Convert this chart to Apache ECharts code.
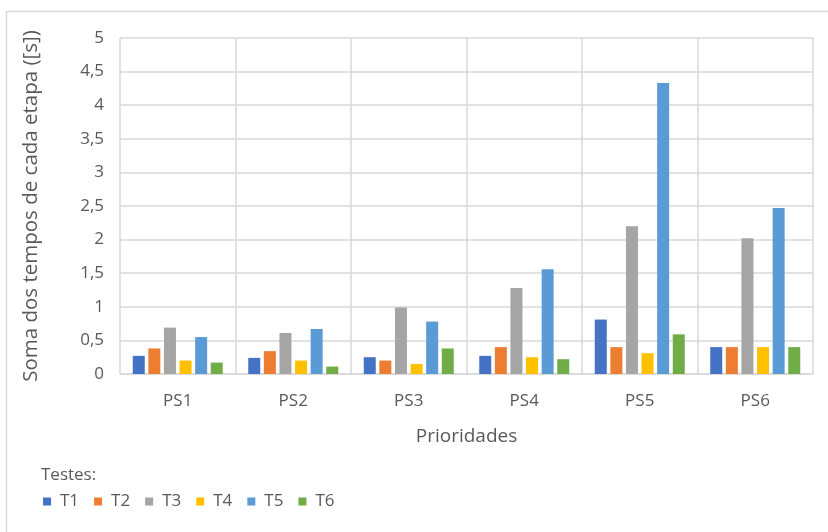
<!DOCTYPE html>
<html>
<head>
<meta charset="utf-8">
<script src="https://cdn.jsdelivr.net/npm/echarts@6/dist/echarts.min.js"></script>
<style>
  html, body { margin: 0; padding: 0; background: #fff; }
  #chart { width: 828px; height: 532px; }
</style>
</head>
<body>
<div id="chart"></div>
<script>
// Categories (priorities) and per-test sums of step times, in seconds
const categories = ['PS1', 'PS2', 'PS3', 'PS4', 'PS5', 'PS6'];
const seriesNames = ['T1', 'T2', 'T3', 'T4', 'T5', 'T6'];
const T1 = [0.27, 0.24, 0.25, 0.27, 0.81, 0.40];
const T2 = [0.38, 0.34, 0.20, 0.40, 0.40, 0.40];
const T3 = [0.69, 0.61, 0.99, 1.28, 2.20, 2.02];
const T4 = [0.20, 0.20, 0.15, 0.25, 0.31, 0.40];
const T5 = [0.55, 0.67, 0.78, 1.56, 4.33, 2.47];
const T6 = [0.17, 0.11, 0.38, 0.22, 0.59, 0.40];
const values = [T1, T2, T3, T4, T5, T6];
const colors = ['#4472C4', '#ED7D31', '#A5A5A5', '#FFC000', '#5B9BD5', '#70AD47'];

const FONT = 'Open Sans';
const TXT = '#595959';
const GRID = '#D9D9D9';

const chart = echarts.init(document.getElementById('chart'), null, { renderer: 'canvas' });

chart.setOption({
  animation: false,
  textStyle: { fontFamily: FONT },
  grid: { left: 120, right: 15, top: 38, bottom: 158 },
  xAxis: {
    type: 'category',
    data: categories,
    boundaryGap: true,
    axisLine: { lineStyle: { color: GRID, width: 1.5 } },
    axisTick: { show: false },
    splitLine: { show: true, lineStyle: { color: GRID, width: 1.5 } },
    axisLabel: { color: TXT, fontSize: 17, fontFamily: FONT, margin: 19 },
    name: 'Prioridades',
    nameLocation: 'middle',
    nameGap: 53,
    nameTextStyle: { color: TXT, fontSize: 19, fontFamily: FONT }
  },
  yAxis: {
    type: 'value',
    min: 0,
    max: 5,
    interval: 0.5,
    axisLine: { show: false },
    axisTick: { show: false },
    splitLine: { lineStyle: { color: GRID, width: 1.5 } },
    axisLabel: {
      color: TXT, fontSize: 17, fontFamily: FONT, margin: 16,
      formatter: v => String(v).replace('.', ',')
    },
    name: 'Soma dos tempos de cada etapa ([s])',
    nameLocation: 'middle',
    nameRotate: 90,
    nameGap: 78,
    nameTextStyle: { color: TXT, fontSize: 20.5, fontFamily: FONT }
  },
  legend: {
    data: seriesNames,
    left: 38,
    top: 488,
    icon: 'rect',
    itemWidth: 8,
    itemHeight: 8,
    itemGap: 15,
    textStyle: { color: TXT, fontSize: 17, fontFamily: FONT, padding: [0, 0, 0, 4] }
  },
  graphic: [
    {
      type: 'rect',
      silent: true,
      shape: { x: 6.5, y: 11.5, width: 830, height: 540 },
      style: { fill: 'none', stroke: GRID, lineWidth: 1.5 }
    },
    {
      type: 'text',
      left: 41,
      top: 467,
      style: { text: 'Testes:', fill: TXT, font: '17px "' + FONT + '"' }
    }
  ],
  series: seriesNames.map((name, i) => ({
    name: name,
    type: 'bar',
    data: values[i],
    barWidth: 12,
    barGap: '30%',
    itemStyle: { color: colors[i] }
  }))
});
</script>
</body>
</html>
